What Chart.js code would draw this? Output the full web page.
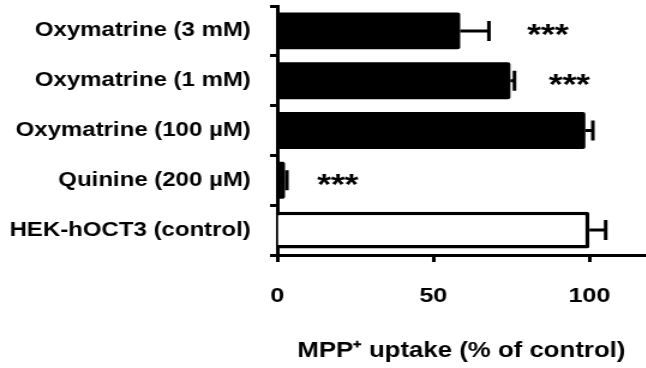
<!DOCTYPE html>
<html>
<head>
<meta charset="utf-8">
<script src="https://cdn.jsdelivr.net/npm/chart.js@4"></script>
<style>
  html, body { margin: 0; padding: 0; background: #fff; overflow: hidden; }
  #wrap { width: 646px; height: 368px; overflow: hidden; }
  /* исходный рисунок растянут по горизонтали */
  #uptakeChart { transform: scaleX(1.2); transform-origin: 0 0; }
</style>
</head>
<body>
<div id="wrap"><canvas id="uptakeChart" width="538" height="368"></canvas></div>
<script>
// категории сверху вниз
const categories = ['Oxymatrine (3 mM)', 'Oxymatrine (1 mM)', 'Oxymatrine (100 µM)', 'Quinine (200 µM)', 'HEK-hOCT3 (control)'];
// поглощение MPP+ (% от контроля)
const uptakeValues = [58.6, 74.7, 98.7, 2.5, 100];
// SEM
const uptakeErrors = [9.2, 1.3, 2.4, 0.6, 5.2];
// значимость
const starLabels = ['***', '***', '', '***', ''];
const starPositions = [86.7, 93.6, null, 19.4, null];
// деления оси X
const tickValues = [0, 50, 100];

const fillColors = ['#000', '#000', '#000', '#000', '#fff'];
const fontFamily = '"Liberation Sans", Arial, sans-serif';

// Плагин для усов погрешности и звёздочек
const errorBarsPlugin = {
    id: 'errorBars',
    afterDatasetsDraw(chart) {
        const ctx = chart.ctx;
        const xScale = chart.scales.x;
        const yScale = chart.scales.y;
        const meta = chart.getDatasetMeta(0);
        ctx.save();
        ctx.strokeStyle = '#000';
        ctx.lineWidth = 3;
        meta.data.forEach((bar, i) => {
            const y = bar.y;
            const x0 = xScale.getPixelForValue(uptakeValues[i]);
            const x1 = xScale.getPixelForValue(uptakeValues[i] + uptakeErrors[i]);
            ctx.beginPath();
            ctx.moveTo(x0, y);
            ctx.lineTo(x1, y);
            ctx.moveTo(x1, y - 10);
            ctx.lineTo(x1, y + 10);
            ctx.stroke();
        });
        // звёздочки
        ctx.fillStyle = '#000';
        ctx.font = 'bold 30px ' + fontFamily;
        ctx.textAlign = 'center';
        ctx.textBaseline = 'middle';
        starLabels.forEach((label, i) => {
            if (!label) return;
            const cx = xScale.getPixelForValue(starPositions[i]);
            const cy = yScale.getPixelForValue(i) + 5;
            for (let k = 0; k < label.length; k++) {
                ctx.fillText('*', cx + (k - 1) * 11.4, cy);
            }
        });
        ctx.restore();
    }
};

new Chart(document.getElementById('uptakeChart').getContext('2d'), {
    type: 'bar',
    data: {
        labels: categories,
        datasets: [{
            data: uptakeValues,
            backgroundColor: fillColors,
            borderColor: '#000',
            borderWidth: [0, 0, 0, 0, 3.5],
            borderSkipped: 'start',
            borderRadius: 2,
            barPercentage: 0.74,
            categoryPercentage: 1
        }]
    },
    options: {
        indexAxis: 'y',
        responsive: false,
        animation: false,
        layout: { padding: { top: 6, right: 0, left: 0, bottom: 0 } },
        plugins: {
            legend: { display: false },
            tooltip: { enabled: false }
        },
        scales: {
            x: {
                min: 0,
                max: 118,
                afterBuildTicks: (scale) => {
                    scale.ticks = tickValues.map(v => ({ value: v }));
                },
                afterFit: (scale) => {
                    scale.height = 113;
                    scale.paddingLeft = 0;
                    scale.paddingRight = 0;
                },
                border: { color: '#000', width: 3 },
                grid: { drawOnChartArea: false, tickLength: 7, tickColor: '#000', tickWidth: 3 },
                ticks: {
                    color: '#000',
                    padding: 22,
                    maxRotation: 0,
                    font: { family: fontFamily, size: 21, weight: 'bold' }
                },
                title: {
                    display: true,
                    text: 'MPP⁺ uptake (% of control)',
                    color: '#000',
                    padding: { top: 26 },
                    font: { family: fontFamily, size: 21.5, weight: 'bold' }
                }
            },
            y: {
                afterFit: (scale) => {
                    scale.width = 231;
                    scale.paddingTop = 0;
                    scale.paddingBottom = 0;
                },
                border: { color: '#000', width: 3 },
                grid: { drawOnChartArea: false, tickLength: 6, tickColor: '#000', tickWidth: 3 },
                ticks: {
                    color: '#000',
                    padding: 16,
                    font: { family: fontFamily, size: 20, weight: 'bold' }
                }
            }
        }
    },
    plugins: [errorBarsPlugin]
});
</script>
</body>
</html>
